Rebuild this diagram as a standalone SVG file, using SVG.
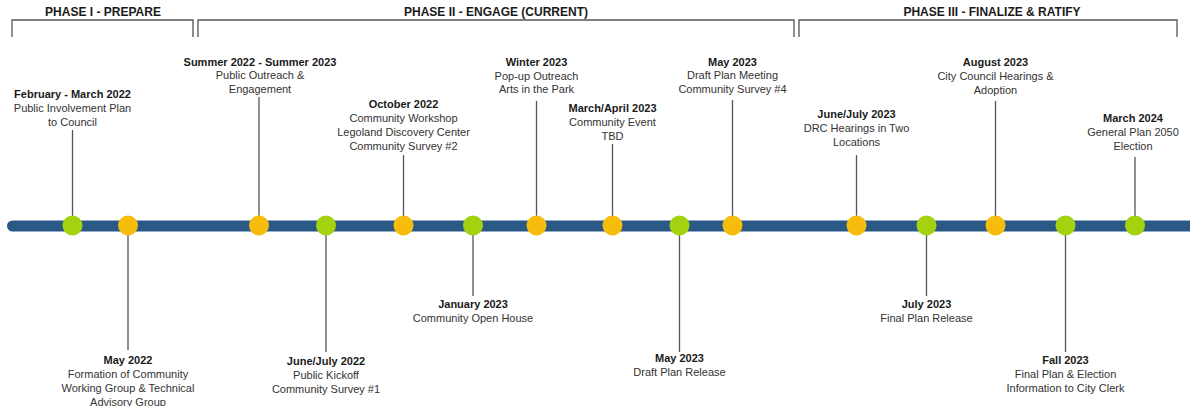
<svg xmlns="http://www.w3.org/2000/svg" width="1190" height="406" viewBox="0 0 1190 406">
<style>
.ph{font-family:"Liberation Sans",Arial,sans-serif;font-size:12px;font-weight:bold;fill:#1a1a1a;text-anchor:middle}
.t{font-family:"Liberation Sans",Arial,sans-serif;font-size:11px;font-weight:bold;fill:#1a1a1a;text-anchor:middle}
.b{font-family:"Liberation Sans",Arial,sans-serif;font-size:11px;fill:#333;text-anchor:middle}
.br{fill:none;stroke:#555;stroke-width:1.3}
.c{stroke:#555;stroke-width:1.3}
.g{fill:#a5d20f}
.y{fill:#f7bd0c}
</style>
<rect width="1190" height="406" fill="#fff"/>
<g id="phases">
<text class="ph" x="103" y="16">PHASE I - PREPARE</text>
<path class="br" d="M12 37V20H193V37"/>
<text class="ph" x="496" y="16">PHASE II - ENGAGE (CURRENT)</text>
<path class="br" d="M198 37V20H794V37"/>
<text class="ph" x="992" y="16">PHASE III - FINALIZE &amp; RATIFY</text>
<path class="br" d="M799 37V20H1177V37"/>
</g>
<g id="connectors">
<line class="c" x1="72.5" y1="130" x2="72.5" y2="225"/>
<line class="c" x1="128" y1="225" x2="128" y2="350"/>
<line class="c" x1="259" y1="97" x2="259" y2="225"/>
<line class="c" x1="326" y1="225" x2="326" y2="352"/>
<line class="c" x1="403.5" y1="155" x2="403.5" y2="225"/>
<line class="c" x1="473" y1="225" x2="473" y2="296"/>
<line class="c" x1="536.5" y1="101" x2="536.5" y2="225"/>
<line class="c" x1="612.5" y1="144" x2="612.5" y2="225"/>
<line class="c" x1="679.5" y1="225" x2="679.5" y2="352"/>
<line class="c" x1="732.5" y1="100" x2="732.5" y2="225"/>
<line class="c" x1="856.5" y1="155" x2="856.5" y2="225"/>
<line class="c" x1="926.5" y1="225" x2="926.5" y2="296"/>
<line class="c" x1="995.5" y1="101" x2="995.5" y2="225"/>
<line class="c" x1="1065.5" y1="225" x2="1065.5" y2="352"/>
<line class="c" x1="1135" y1="157" x2="1135" y2="225"/>
</g>
<g id="timeline">
<path d="M12.5 220.5H1190V231.5H12.5A5.5 5.5 0 0 1 12.5 220.5Z" fill="#2a5986"/>
</g>
<g id="n1"><circle class="g" cx="72.5" cy="225.5" r="10"/>
<text class="t" x="72.5" y="98">February - March 2022</text>
<text class="b" x="72.5" y="112">Public Involvement Plan</text>
<text class="b" x="72.5" y="126">to Council</text></g>
<g id="n2"><circle class="y" cx="128" cy="225.5" r="10"/>
<text class="t" x="128" y="364">May 2022</text>
<text class="b" x="128" y="378">Formation of Community</text>
<text class="b" x="128" y="392">Working Group &amp; Technical</text>
<text class="b" x="128" y="406">Advisory Group</text></g>
<g id="n3"><circle class="y" cx="259" cy="225.5" r="10"/>
<text class="t" x="260" y="66">Summer 2022 - Summer 2023</text>
<text class="b" x="260" y="79">Public Outreach &amp;</text>
<text class="b" x="260" y="93">Engagement</text></g>
<g id="n4"><circle class="g" cx="326" cy="225.5" r="10"/>
<text class="t" x="326" y="365">June/July 2022</text>
<text class="b" x="326" y="379">Public Kickoff</text>
<text class="b" x="326" y="393">Community Survey #1</text></g>
<g id="n5"><circle class="y" cx="403.5" cy="225.5" r="10"/>
<text class="t" x="403.5" y="108">October 2022</text>
<text class="b" x="403.5" y="122">Community Workshop</text>
<text class="b" x="403.5" y="136">Legoland Discovery Center</text>
<text class="b" x="403.5" y="150">Community Survey #2</text></g>
<g id="n6"><circle class="g" cx="473" cy="225.5" r="10"/>
<text class="t" x="473" y="308">January 2023</text>
<text class="b" x="473" y="322">Community Open House</text></g>
<g id="n7"><circle class="y" cx="536.5" cy="225.5" r="10"/>
<text class="t" x="536.5" y="66">Winter 2023</text>
<text class="b" x="536.5" y="79.5">Pop-up Outreach</text>
<text class="b" x="536.5" y="93">Arts in the Park</text></g>
<g id="n8"><circle class="y" cx="612.5" cy="225.5" r="10"/>
<text class="t" x="612.5" y="112">March/April 2023</text>
<text class="b" x="612.5" y="126">Community Event</text>
<text class="b" x="612.5" y="140">TBD</text></g>
<g id="n9"><circle class="g" cx="679.5" cy="225.5" r="10"/>
<text class="t" x="679.5" y="362">May 2023</text>
<text class="b" x="679.5" y="376">Draft Plan Release</text></g>
<g id="n10"><circle class="y" cx="732.5" cy="225.5" r="10"/>
<text class="t" x="732.5" y="66">May 2023</text>
<text class="b" x="732.5" y="79">Draft Plan Meeting</text>
<text class="b" x="732.5" y="93">Community Survey #4</text></g>
<g id="n11"><circle class="y" cx="856.5" cy="225.5" r="10"/>
<text class="t" x="856.5" y="118">June/July 2023</text>
<text class="b" x="856.5" y="132">DRC Hearings in Two</text>
<text class="b" x="856.5" y="146">Locations</text></g>
<g id="n12"><circle class="g" cx="926.5" cy="225.5" r="10"/>
<text class="t" x="926.5" y="308">July 2023</text>
<text class="b" x="926.5" y="322">Final Plan Release</text></g>
<g id="n13"><circle class="y" cx="995.5" cy="225.5" r="10"/>
<text class="t" x="995.5" y="66">August 2023</text>
<text class="b" x="995.5" y="80">City Council Hearings &amp;</text>
<text class="b" x="995.5" y="94">Adoption</text></g>
<g id="n14"><circle class="g" cx="1065.5" cy="225.5" r="10"/>
<text class="t" x="1065.5" y="364">Fall 2023</text>
<text class="b" x="1065.5" y="378">Final Plan &amp; Election</text>
<text class="b" x="1065.5" y="392">Information to City Clerk</text></g>
<g id="n15"><circle class="g" cx="1135" cy="225.5" r="10"/>
<text class="t" x="1133" y="121.5">March 2024</text>
<text class="b" x="1133" y="136">General Plan 2050</text>
<text class="b" x="1133" y="150">Election</text></g>
</svg>
